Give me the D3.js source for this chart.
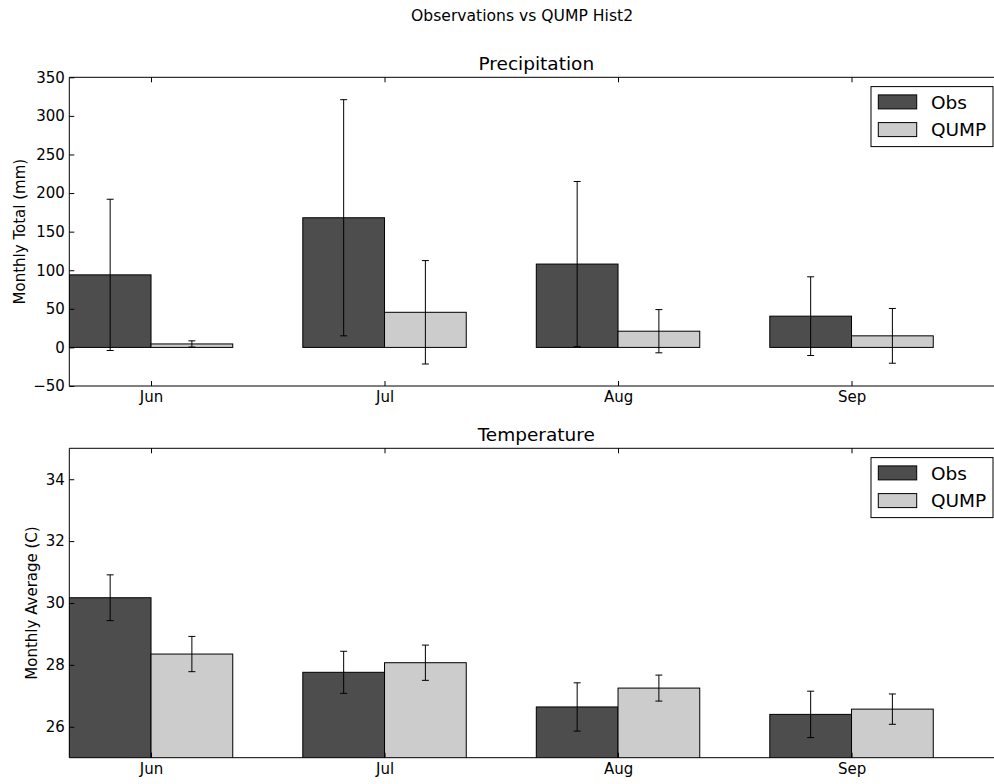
<!DOCTYPE html>
<html>
<head>
<meta charset="utf-8">
<script src="https://cdn.jsdelivr.net/npm/d3@7"></script>
<style>
  body { margin: 0; background: #fff; overflow: hidden; }
  svg { display: block; font-family: 'DejaVu Sans', sans-serif; overflow: hidden; }
</style>
</head>
<body>
<div id="chart"></div>
<script>
const months = ['Jun', 'Jul', 'Aug', 'Sep'];
const seriesNames = ['Obs', 'QUMP'];

const precipObs = [94, 168, 108, 40.5];
const precipObsErr = [98, 153, 107, 51];
const precipQump = [4.5, 45.5, 21, 15];
const precipQumpErr = [4, 67, 28, 35.5];
const precipTicks = [-50, 0, 50, 100, 150, 200, 250, 300, 350];

const tempObs = [30.17, 27.76, 26.64, 26.4];
const tempObsErr = [0.74, 0.68, 0.78, 0.75];
const tempQump = [28.35, 28.07, 27.25, 26.57];
const tempQumpErr = [0.57, 0.57, 0.42, 0.49];
const tempTicks = [26, 28, 30, 32, 34];

const W = 994, H = 784;
const barWidth = 0.35;
const colors = ['#4d4d4d', '#cccccc'];

const svg = d3.select('#chart').append('svg')
  .attr('width', W)
  .attr('height', H);

svg.append('text')
  .attr('x', 411)
  .attr('y', 21.3)
  .attr('font-size', '15.6px')
  .attr('fill', '#000')
  .text('Observations vs QUMP Hist2');

// axes run past the right edge of the picture, as in the original crop
const x = d3.scaleLinear()
  .domain([0, 4])
  .range([69.3, 69.3 + 4 * 233.5]);
const plotRight = W + 20;

function drawPanel(cfg) {
  const top = cfg.top, bottom = cfg.bottom;
  const left = x.range()[0], right = plotRight;

  const y = d3.scaleLinear()
    .domain(cfg.domain)
    .range([bottom, top]);

  const g = svg.append('g');

  g.append('clipPath')
    .attr('id', 'clip-' + cfg.id)
    .append('rect')
    .attr('x', left)
    .attr('y', top)
    .attr('width', right - left)
    .attr('height', bottom - top);

  const plot = g.append('g').attr('clip-path', `url(#clip-${cfg.id})`);

  // bars
  [cfg.obs, cfg.qump].forEach((vals, s) => {
    plot.selectAll('.bar-' + s)
      .data(vals)
      .enter().append('rect')
      .attr('class', 'bar-' + s)
      .attr('x', (d, i) => x(i + s * barWidth))
      .attr('y', d => Math.min(y(d), y(0)))
      .attr('width', x(barWidth) - x(0))
      .attr('height', d => Math.abs(y(d) - y(0)))
      .attr('fill', colors[s])
      .attr('stroke', '#000')
      .attr('stroke-width', 1);
  });

  // error bars
  [[cfg.obs, cfg.obsErr], [cfg.qump, cfg.qumpErr]].forEach(([vals, errs], s) => {
    vals.forEach((v, i) => {
      const cx = x(i + s * barWidth + barWidth / 2);
      const y1 = y(v + errs[i]), y2 = y(v - errs[i]);
      plot.append('line')
        .attr('x1', cx).attr('x2', cx)
        .attr('y1', y1).attr('y2', y2)
        .attr('stroke', '#000').attr('stroke-width', 1);
      [y1, y2].forEach(yy => {
        plot.append('line')
          .attr('x1', cx - 3.5).attr('x2', cx + 3.5)
          .attr('y1', yy).attr('y2', yy)
          .attr('stroke', '#000').attr('stroke-width', 1);
      });
    });
  });

  // spines (no right one: it is cut off in the original)
  [[left, top, right, top], [left, bottom, right, bottom], [left, top, left, bottom]].forEach(s => {
    g.append('line')
      .attr('x1', s[0]).attr('y1', s[1])
      .attr('x2', s[2]).attr('y2', s[3])
      .attr('stroke', '#000')
      .attr('stroke-width', 1);
  });

  const tickPos = months.map((m, i) => i + barWidth);

  const yAxis = g.append('g')
    .attr('transform', `translate(${left},0)`)
    .call(d3.axisLeft(y).tickValues(cfg.ticks).tickSize(-5).tickPadding(4.5)
      .tickFormat(d => d < 0 ? '\u2212' + Math.abs(d) : d));
  yAxis.select('.domain').remove();
  yAxis.selectAll('text').attr('font-size', '15px').attr('fill', '#000').attr('font-family', 'DejaVu Sans');

  const xAxis = g.append('g')
    .attr('transform', `translate(0,${bottom})`)
    .call(d3.axisBottom(x).tickValues(tickPos).tickSize(-5).tickPadding(5.8)
      .tickFormat((d, i) => months[i]));
  xAxis.select('.domain').remove();
  xAxis.selectAll('text').attr('font-size', '15px').attr('fill', '#000').attr('font-family', 'DejaVu Sans');

  const xTop = g.append('g')
    .attr('transform', `translate(0,${top})`)
    .call(d3.axisTop(x).tickValues(tickPos).tickSize(-5).tickFormat(''));
  xTop.select('.domain').remove();

  g.selectAll('.tick line').attr('stroke', '#000');

  // titles
  g.append('text')
    .attr('x', (x.range()[0] + x.range()[1]) / 2)
    .attr('y', top - 7.5)
    .attr('text-anchor', 'middle')
    .attr('font-size', '18.5px')
    .text(cfg.title);

  g.append('text')
    .attr('transform', `translate(${cfg.labelX},${(top + bottom) / 2}) rotate(-90)`)
    .attr('text-anchor', 'middle')
    .attr('dy', '0.36em')
    .attr('font-size', '15px')
    .text(cfg.ylabel);

  // legend
  const legend = g.append('g')
    .attr('transform', `translate(871,${top + 9.3})`);
  legend.append('rect')
    .attr('width', 122)
    .attr('height', 60)
    .attr('fill', '#fff')
    .attr('stroke', '#000')
    .attr('stroke-width', 1);
  seriesNames.forEach((name, i) => {
    legend.append('rect')
      .attr('x', 7.3)
      .attr('y', 8.3 + i * 27.7)
      .attr('width', 38.4)
      .attr('height', 14)
      .attr('fill', colors[i])
      .attr('stroke', '#000')
      .attr('stroke-width', 1);
    legend.append('text')
      .attr('x', 60)
      .attr('y', 15.3 + i * 27.7)
      .attr('dy', '0.36em')
      .attr('font-size', '18.5px')
      .text(name);
  });
}

drawPanel({
  id: 'precip',
  top: 77.3, bottom: 386,
  domain: [-50, 350],
  ticks: precipTicks,
  obs: precipObs, obsErr: precipObsErr,
  qump: precipQump, qumpErr: precipQumpErr,
  title: 'Precipitation',
  ylabel: 'Monthly Total (mm)',
  labelX: 19.5
});

drawPanel({
  id: 'temp',
  top: 448.3, bottom: 757.7,
  domain: [25, 35],
  ticks: tempTicks,
  obs: tempObs, obsErr: tempObsErr,
  qump: tempQump, qumpErr: tempQumpErr,
  title: 'Temperature',
  ylabel: 'Monthly Average (C)',
  labelX: 31.5
});
</script>
</body>
</html>
